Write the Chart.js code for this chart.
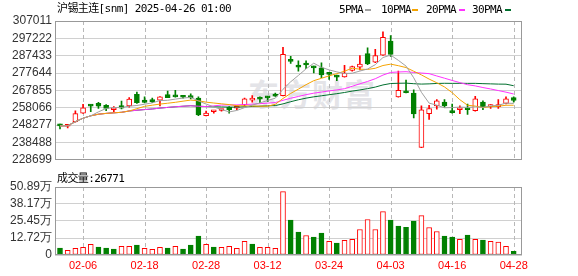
<!DOCTYPE html>
<html>
<head>
<meta charset="utf-8">
<script src="https://cdn.jsdelivr.net/npm/chart.js@4/dist/chart.umd.min.js"></script>
<style>
body { margin: 0; background: #fff; }
#wrap { position: relative; width: 578px; height: 276px; overflow: hidden; }
canvas { position: absolute; left: 0; }
.txt { position: absolute; font: 11px "DejaVu Sans Mono", "Noto Sans CJK SC", monospace; letter-spacing: -0.6px; color: #000; white-space: nowrap; line-height: 13px; }
.mk { position: absolute; height: 2px; width: 6px; top: 9px; }
#wm { position: absolute; left: 248px; top: 70px; font: bold 31px "Noto Sans CJK SC", sans-serif; color: #e4e4e8; letter-spacing: 1px; }
</style>
</head>
<body>
<div id="wrap">
  <div id="wm">东方财富</div>
  <canvas id="priceChart" width="578" height="170" style="top:0"></canvas>
  <canvas id="volChart" width="578" height="106" style="top:170px"></canvas>
  <div class="txt" style="left:57px;top:2px">沪锡主连[snm] 2025-04-26 01:00</div>
  <div class="txt" style="left:339px;top:3px">5PMA</div>
  <div class="mk" style="left:365px;background:#a0a0a0"></div>
  <div class="txt" style="left:381px;top:3px">10PMA</div>
  <div class="mk" style="left:412px;background:#f5a300"></div>
  <div class="txt" style="left:426px;top:3px">20PMA</div>
  <div class="mk" style="left:459px;background:#ff33ff"></div>
  <div class="txt" style="left:472px;top:3px">30PMA</div>
  <div class="mk" style="left:505px;background:#006f2e"></div>
  <div class="txt" style="left:57px;top:172px">成交量:26771</div>
</div>
<script>
const dates = ['01-24','01-27','02-05','02-06','02-07','02-10','02-11','02-12','02-13','02-14',
  '02-17','02-18','02-19','02-20','02-21','02-24','02-25','02-26','02-27','02-28',
  '03-03','03-04','03-05','03-06','03-07','03-10','03-11','03-12','03-13','03-14',
  '03-17','03-18','03-19','03-20','03-21','03-24','03-25','03-26','03-27','03-28',
  '03-31','04-01','04-02','04-03','04-07','04-08','04-09','04-10','04-11','04-14',
  '04-15','04-16','04-17','04-18','04-21','04-22','04-23','04-24','04-25','04-28'];
const labelIdx = [3, 11, 19, 27, 35, 43, 51, 59];

const opens = [248620, 247640, 250150, 255060, 259200, 260520, 259430, 256920, 259260, 259100,
  265650, 262370, 262700, 262370, 265430, 264560, 264340, 264880, 263470, 253640,
  255830, 256530, 258340, 257790, 259810, 262370, 263250, 264010, 265810, 264880,
  284530, 282180, 282510, 281250, 280550, 277650, 275630, 275470, 279070, 280930,
  288570, 283820, 287800, 295660, 264170, 267450, 266360, 235630, 254730, 259100,
  261280, 255830, 256920, 257240, 256370, 261280, 258720, 258720, 260520, 263790];
const highs = [248890, 248510, 256370, 259970, 259810, 261060, 259810, 258720, 261830, 263790,
  266900, 264170, 263470, 264300, 267450, 267830, 264880, 265980, 264170, 256150,
  256530, 257240, 258720, 259100, 263470, 264880, 264170, 264560, 266360, 292170,
  287090, 284530, 284530, 281640, 283440, 277800, 276560, 282020, 281640, 287480,
  291840, 291080, 300900, 298720, 278740, 273620, 268160, 259100, 259430, 262700,
  262700, 260190, 259100, 260190, 264560, 261990, 259810, 262700, 264170, 264170];
const lows = [246170, 246710, 249990, 254900, 255830, 257630, 256370, 255830, 257460, 258340,
  260520, 260800, 260900, 259100, 263700, 264000, 263470, 263080, 253640, 253500,
  255060, 256150, 255060, 256920, 259100, 261280, 260900, 261610, 264400, 264700,
  283110, 278740, 280160, 277650, 275090, 274000, 273290, 275300, 278740, 279450,
  282350, 283440, 287600, 287090, 264000, 266400, 252330, 235500, 251460, 257240,
  258340, 255060, 254730, 254350, 256200, 256920, 257630, 257630, 260190, 261280];
const closes = [247800, 248080, 254730, 258010, 259000, 258900, 257630, 257500, 257790, 262920,
  260900, 261100, 261450, 264170, 263790, 264170, 264010, 263630, 253970, 255060,
  255990, 256700, 256920, 258010, 263080, 263080, 262920, 263680, 264560, 288190,
  284200, 280930, 282180, 280550, 276560, 276890, 275310, 277650, 281250, 282730,
  282730, 287480, 297840, 288190, 267830, 266520, 254520, 256920, 257630, 261990,
  259100, 255330, 258010, 256920, 263080, 258340, 259100, 259810, 263080, 262160];

// volume in 万 (10k lots); volUp: 1 = red, 0 = green
const volumes = [5.2, 3.5, 5.0, 5.7, 7.9, 6.0, 5.2, 4.5, 6.5, 6.5,
  7.4, 5.0, 4.2, 5.7, 5.2, 6.5, 4.5, 7.4, 14.1, 7.9,
  6.0, 5.7, 6.5, 5.0, 10.2, 8.2, 5.7, 5.7, 5.0, 47.4,
  26.1, 17.1, 14.6, 13.4, 16.4, 10.2, 8.9, 10.9, 11.7, 19.1,
  26.6, 19.1, 32.5, 26.1, 21.6, 20.8, 25.3, 29.5, 20.6, 17.6,
  14.1, 13.4, 11.7, 14.9, 11.7, 11.2, 10.2, 9.7, 6.5, 2.68];
const volUp = [0,1,1,1,1,0,0,0,1,1, 0,1,1,1,0,1,0,0,0,1, 0,1,1,1,1,0,1,1,1,1,
  0,0,1,0,0,1,0,1,1,1, 1,1,1,0,0,0,0,1,1,1, 0,0,1,0,1,0,1,1,1,0];

const priceTicks = [228699, 238488, 248277, 258066, 267855, 277644, 287433, 297222, 307011];
const volTicks = [0, 12.72, 25.45, 38.17, 50.89];

const maList = [
  { n: 5, color: '#a0a0a0' },
  { n: 10, color: '#f5a300' },
  { n: 20, color: '#ff33ff' },
  { n: 30, color: '#006f2e' }
];

const RED = '#ff0000';
const GREEN = '#008000';

function movingAvg(n) {
  return closes.map((c, i) => {
    const part = closes.slice(Math.max(0, i - n + 1), i + 1);
    return part.reduce((a, b) => a + b, 0) / part.length;
  });
}

// outer frame plus dashed date lines
const framePlugin = {
  id: 'frame',
  beforeDatasetsDraw(chart) {
    const { ctx, chartArea: a, scales } = chart;
    ctx.save();
    ctx.strokeStyle = '#b8b8b8';
    ctx.lineWidth = 1;
    ctx.setLineDash([4, 3]);
    labelIdx.forEach(i => {
      const px = Math.round(scales.x.getPixelForValue(i)) + 0.5;
      ctx.beginPath();
      ctx.moveTo(px, Math.round(a.top));
      ctx.lineTo(px, Math.round(a.bottom));
      ctx.stroke();
    });
    ctx.restore();
  },
  afterDraw(chart) {
    const { ctx, chartArea: a } = chart;
    ctx.save();
    ctx.strokeStyle = '#999';
    ctx.lineWidth = 1;
    ctx.strokeRect(Math.round(a.left) + 0.5, Math.round(a.top) + 0.5,
      Math.round(a.right - a.left) - 1, Math.round(a.bottom - a.top) - 1);
    ctx.restore();
  }
};

const up = closes.map((c, i) => c >= opens[i]);

const xScale = (showLabels) => ({
  type: 'linear',
  min: -0.65,
  max: 60.08,
  offset: false,
  afterBuildTicks: s => { s.ticks = labelIdx.map(v => ({ value: v })); },
  afterFit: s => { s.height = showLabels ? 21 : 0; },
  grid: { display: false, drawTicks: false },
  border: { display: false },
  ticks: {
    display: showLabels,
    padding: 4,
    maxRotation: 0,
    autoSkip: false,
    color: RED,
    font: { family: 'Liberation Sans', size: 11 },
    callback: v => dates[v]
  }
});

const yBase = {
  afterFit: s => { s.width = 55; },
  grid: { color: '#d0d0d0', drawTicks: false },
  border: { display: false },
  ticks: { padding: 3, autoSkip: false, color: '#333', font: { family: 'Liberation Sans', size: 12 } }
};

new Chart(document.getElementById('priceChart'), {
  type: 'bar',
  data: {
    datasets: [
      ...maList.map(m => ({
        type: 'line',
        data: movingAvg(m.n).map((v, i) => ({ x: i, y: v })),
        borderColor: m.color,
        borderWidth: 1,
        pointRadius: 0,
        tension: 0,
        order: 0
      })),
      {
        data: opens.map((o, i) => ({ x: i, y: [o, closes[i]] })),
        backgroundColor: up.map(u => u ? '#ffffff' : GREEN),
        borderColor: up.map(u => u ? RED : GREEN),
        borderWidth: 1,
        borderSkipped: false,
        barThickness: 5,
        minBarLength: 2,
        grouped: false,
        order: 1
      },
      {
        data: lows.map((l, i) => ({ x: i, y: [l, highs[i]] })),
        backgroundColor: up.map(u => u ? RED : GREEN),
        barThickness: 1,
        grouped: false,
        order: 2
      }
    ]
  },
  options: {
    responsive: false,
    animation: false,
    layout: { padding: { left: 0, right: 56, top: 21, bottom: 5 } },
    plugins: { legend: { display: false }, tooltip: { enabled: false } },
    scales: {
      x: xScale(false),
      y: {
        ...yBase,
        min: priceTicks[0],
        max: priceTicks[priceTicks.length - 1],
        afterBuildTicks: s => { s.ticks = priceTicks.map(v => ({ value: v })); },
        ticks: { ...yBase.ticks, callback: v => String(v) }
      }
    }
  },
  plugins: [framePlugin]
});

new Chart(document.getElementById('volChart'), {
  type: 'bar',
  data: {
    datasets: [{
      data: volumes.map((v, i) => ({ x: i, y: v })),
      backgroundColor: volUp.map(u => u ? '#ffffff' : GREEN),
      borderColor: volUp.map(u => u ? RED : GREEN),
      borderWidth: 1,
      borderSkipped: false,
      barThickness: 5,
      grouped: false
    }]
  },
  options: {
    responsive: false,
    animation: false,
    layout: { padding: { left: 0, right: 56, top: 17, bottom: 0 } },
    plugins: { legend: { display: false }, tooltip: { enabled: false } },
    scales: {
      x: xScale(true),
      y: {
        ...yBase,
        min: 0,
        max: volTicks[volTicks.length - 1],
        afterBuildTicks: s => { s.ticks = volTicks.map(v => ({ value: v })); },
        ticks: { ...yBase.ticks, callback: v => v === 0 ? '0' : v.toFixed(2) + '万' }
      }
    }
  },
  plugins: [framePlugin]
});
</script>
</body>
</html>
